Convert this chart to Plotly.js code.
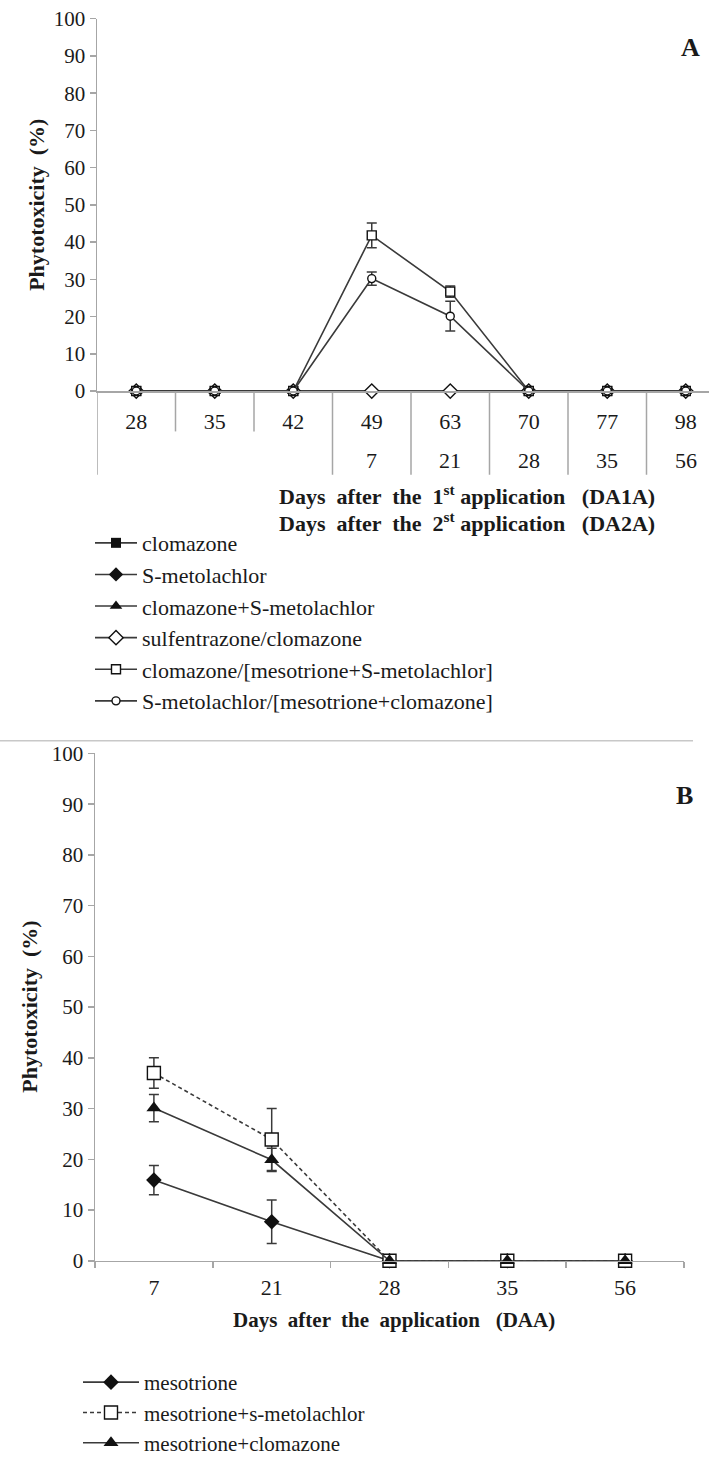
<!DOCTYPE html>
<html>
<head>
<meta charset="utf-8">
<script src="https://cdn.plot.ly/plotly-3.0.1.min.js"></script>
<style>
html,body{margin:0;padding:0;background:#fff;overflow:hidden;}
#chart{width:709px;height:1463px;}
</style>
</head>
<body>
<div id="chart"></div>
<script>
// ---------- Panel A data ----------
const daysA1 = ['28','35','42','49','63','70','77','98'];   // DA1A
const daysA2 = ['','','','7','21','28','35','56'];          // DA2A
const clomazone            = [0,0,0,null,null,0,0,0];
const sMetolachlor         = [0,0,0,null,null,0,0,0];
const clomazoneSMet        = [0,0,0,null,null,0,0,0];
const sulfentrazoneClom    = [0,0,0,0,0,0,0,0];
const clomMesoSMet         = [0,0,0,41.8,26.7,0,0,0];
const clomMesoSMetErr      = [null,null,null,3.3,1.5,null,null,null];
const sMetMesoClom         = [0,0,0,30.2,20.1,0,0,0];
const sMetMesoClomErr      = [null,null,null,1.8,4.0,null,null,null];
const namesA = ['clomazone','S-metolachlor','clomazone+S-metolachlor','sulfentrazone/clomazone',
                'clomazone/[mesotrione+S-metolachlor]','S-metolachlor/[mesotrione+clomazone]'];

// ---------- Panel B data ----------
const daysB = ['7','21','28','35','56'];                    // DAA
const mesotrione          = [15.9,7.7,0,0,0];
const mesotrioneErr       = [2.9,4.3,null,null,null];
const mesoSMet            = [37.0,23.9,0,0,0];
const mesoSMetErr         = [3.0,6.1,null,null,null];
const mesoClom            = [30.1,19.9,0,0,0];
const mesoClomErr         = [2.7,2.3,null,null,null];
const namesB = ['mesotrione','mesotrione+s-metolachlor','mesotrione+clomazone'];

// ---------- helpers ----------
const W = 709, H = 1463;
const px = v => v / W;
const py = v => 1 - v / H;
const FONT = 'Liberation Serif';
const TXT = '#1a1a1a';
const LINE = '#3a3a3a', MK = '#111111', AX = '#a6a6a6';
const errs = a => a.map(v => v == null ? NaN : v);

function tr(x, y, name, sym, size, filled, xa, ya, leg, err, dash) {
  const t = {
    type: 'scatter', mode: 'lines+markers', x: x, y: y, name: name,
    xaxis: xa, yaxis: ya, legend: leg, connectgaps: true, cliponaxis: false,
    line: {color: LINE, width: 1.6, dash: dash || 'solid'},
    marker: {symbol: sym, size: size, color: filled ? MK : '#ffffff',
             line: {color: MK, width: filled ? 0 : 1.4}}
  };
  if (err) t.error_y = {type: 'data', array: errs(err), visible: true,
                        color: LINE, thickness: 1.5, width: 5};
  return t;
}

const traces = [
  tr(daysA1, clomazone, namesA[0], 'square', 10, true, 'x', 'y', 'legend'),
  tr(daysA1, sMetolachlor, namesA[1], 'diamond', 11, true, 'x', 'y', 'legend'),
  tr(daysA1, clomazoneSMet, namesA[2], 'triangle-up', 11, true, 'x', 'y', 'legend'),
  tr(daysA1, sulfentrazoneClom, namesA[3], 'diamond', 11, false, 'x', 'y', 'legend'),
  tr(daysA1, clomMesoSMet, namesA[4], 'square', 9, false, 'x', 'y', 'legend', clomMesoSMetErr),
  tr(daysA1, sMetMesoClom, namesA[5], 'circle', 8, false, 'x', 'y', 'legend', sMetMesoClomErr),
  tr(daysB, mesotrione, namesB[0], 'diamond', 12, true, 'x2', 'y2', 'legend2', mesotrioneErr),
  tr(daysB, mesoSMet, namesB[1], 'square', 13, false, 'x2', 'y2', 'legend2', mesoSMetErr, '4px,3px'),
  tr(daysB, mesoClom, namesB[2], 'triangle-up', 13, true, 'x2', 'y2', 'legend2', mesoClomErr)
];

// Panel A multi-level category dividers and second label row
const shapes = [];
const annotations = [];
const yZeroA = 397, shortEnd = 438, longEnd = 482;
for (let i = -1; i < daysA1.length - 1; i++) {
  const isLong = i < 0 || daysA2[i + 1] !== '';
  shapes.push({type: 'line', xref: 'x', yref: 'paper', x0: i + 0.5, x1: i + 0.5,
               y0: py(yZeroA), y1: py(isLong ? longEnd : shortEnd),
               line: {color: AX, width: 1.5}});
}
daysA2.forEach((t, i) => {
  if (t !== '') annotations.push({xref: 'x', yref: 'paper', x: i, y: py(468), text: t,
    showarrow: false, yanchor: 'middle', font: {family: FONT, size: 22, color: TXT}});
});
// separator between panels
shapes.push({type: 'line', xref: 'paper', yref: 'paper', x0: 0, x1: px(693),
             y0: py(752), y1: py(752), line: {color: '#c8c8c8', width: 1.5}});

const boldAnn = (text, x, y, size, angle) => ({
  xref: 'paper', yref: 'paper', x: px(x), y: py(y), text: text, showarrow: false,
  xanchor: 'center', yanchor: 'middle', textangle: angle || 0,
  font: {family: FONT, size: size, color: TXT}
});
annotations.push(boldAnn('<b>A</b>', 690, 48, 26));
annotations.push(boldAnn('<b>B</b>', 684, 808, 26));
annotations.push(boldAnn('<b>Phytotoxicity  (%)</b>', 37, 208, 22, -90));
annotations.push(boldAnn('<b>Phytotoxicity  (%)</b>', 30, 1022, 22, -90));
annotations.push(boldAnn('<b>Days  after  the  1<sup>st</sup> application   (DA1A)</b>', 467, 503, 22));
annotations.push(boldAnn('<b>Days  after  the  2<sup>st</sup> application   (DA2A)</b>', 467, 530, 22));
annotations.push(boldAnn('<b>Days  after  the  application   (DAA)</b>', 394, 1340, 21));

const yAxisCommon = {
  range: [0, 100], dtick: 10, tick0: 0, ticks: 'outside', ticklen: 6, tickwidth: 1.5,
  tickcolor: AX, showline: true, linecolor: AX, linewidth: 1.5, showgrid: false,
  zeroline: false, tickfont: {family: FONT, size: 21, color: TXT}, fixedrange: true
};

const layout = {
  width: W, height: H, margin: {l: 0, r: 0, t: 0, b: 0},
  paper_bgcolor: '#fff', plot_bgcolor: '#fff', showlegend: true,
  font: {family: FONT, color: TXT},
  xaxis: {
    domain: [px(97), 1], anchor: 'y', type: 'category', range: [-0.5, -0.5 + (709 - 97) / 78.5],
    showline: true, linecolor: AX, linewidth: 1.5, ticks: '', showgrid: false, zeroline: false,
    ticklabelstandoff: 10, tickfont: {family: FONT, size: 22, color: TXT}, fixedrange: true
  },
  yaxis: Object.assign({domain: [py(397), py(19)], anchor: 'x'}, yAxisCommon),
  xaxis2: {
    domain: [px(95), px(684)], anchor: 'y2', type: 'category', range: [-0.5, 4.5],
    showline: true, linecolor: AX, linewidth: 1.5, ticks: 'outside', tickson: 'boundaries',
    ticklen: 6, tickwidth: 1.5, tickcolor: AX, showgrid: false, zeroline: false,
    ticklabelstandoff: 6, tickfont: {family: FONT, size: 22, color: TXT}, fixedrange: true
  },
  yaxis2: Object.assign({domain: [py(1280), py(765)], anchor: 'x2'}, yAxisCommon),
  legend: {
    x: px(90), xanchor: 'left', y: py(530), yanchor: 'top', bgcolor: 'rgba(0,0,0,0)',
    font: {family: FONT, size: 22, color: TXT}, itemwidth: 42, tracegroupgap: 0,
    traceorder: 'normal'
  },
  legend2: {
    x: px(78), xanchor: 'left', y: py(1383), yanchor: 'top', bgcolor: 'rgba(0,0,0,0)',
    font: {family: FONT, size: 21, color: TXT}, itemwidth: 56, tracegroupgap: 0,
    traceorder: 'normal'
  },
  shapes: shapes,
  annotations: annotations
};

Plotly.newPlot('chart', traces, layout, {displayModeBar: false, staticPlot: true});
</script>
</body>
</html>
